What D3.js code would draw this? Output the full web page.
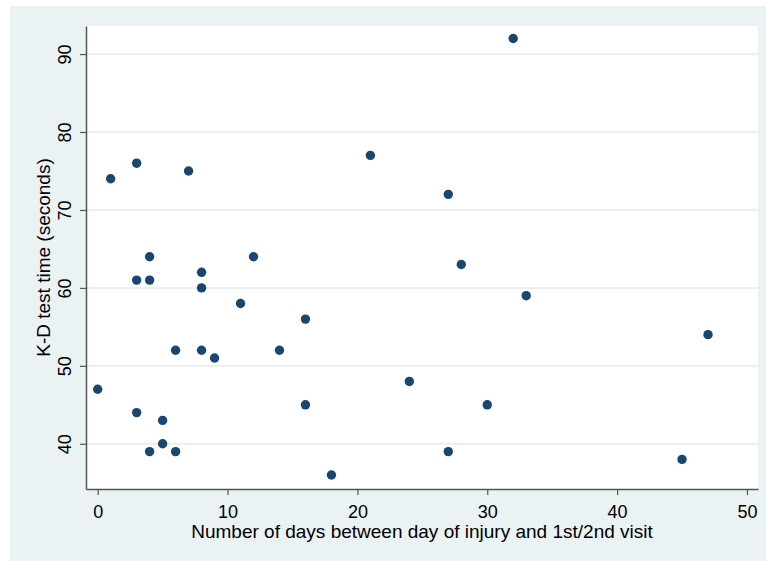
<!DOCTYPE html>
<html>
<head>
<meta charset="utf-8">
<script src="https://cdn.jsdelivr.net/npm/d3@7"></script>
<style>
  body { margin: 0; background: #fff; }
  text { font-family: "Liberation Sans", Arial, sans-serif; fill: #000; }
</style>
</head>
<body>
<div id="chart"></div>
<script>
// Data
const days = [0, 1, 3, 3, 3, 4, 4, 4, 5, 5, 6, 6, 7, 8, 8, 8, 9, 11, 12, 14, 16, 16, 18, 21, 24, 27, 27, 28, 30, 32, 33, 45, 47];
const kdTime = [47, 74, 76, 61, 44, 64, 61, 39, 43, 40, 52, 39, 75, 62, 60, 52, 51, 58, 64, 52, 56, 45, 36, 77, 48, 72, 39, 63, 45, 92, 59, 38, 54];
const xTicks = [0, 10, 20, 30, 40, 50];
const yTicks = [40, 50, 60, 70, 80, 90];

const w = 766;
const h = 561;

// plot region in pixels
const plot = { left: 86, top: 26, right: 758, bottom: 489 };

const svg = d3.select("#chart")
  .append("svg")
    .attr("width", w)
    .attr("height", h);

// outer graph region
svg.append("rect")
  .attr("x", 10)
  .attr("y", 6)
  .attr("width", w - 10)
  .attr("height", h - 6)
  .attr("fill", "#eaf2f3");

svg.append("rect")
  .attr("x", plot.left)
  .attr("y", plot.top)
  .attr("width", plot.right - plot.left)
  .attr("height", plot.bottom - plot.top)
  .attr("fill", "#ffffff");

const xScale = d3.scaleLinear()
  .domain([-0.9, 50.85])
  .range([plot.left, plot.right]);

const yScale = d3.scaleLinear()
  .domain([34.2, 93.6])
  .range([plot.bottom, plot.top]);

// gridlines
svg.append("g")
  .selectAll("line")
  .data(yTicks)
  .enter()
  .append("line")
    .attr("x1", plot.left)
    .attr("x2", plot.right)
    .attr("y1", d => yScale(d))
    .attr("y2", d => yScale(d))
    .attr("stroke", "#e2edf0")
    .attr("stroke-width", 1.5);

// axes
const xAxis = svg.append("g")
  .attr("transform", `translate(0, ${plot.bottom})`)
  .call(d3.axisBottom(xScale).tickValues(xTicks).tickSize(6).tickSizeOuter(0).tickPadding(11));

const yAxis = svg.append("g")
  .attr("transform", `translate(${plot.left}, 0)`)
  .call(d3.axisLeft(yScale).tickValues(yTicks).tickSize(6).tickSizeOuter(0));

[xAxis, yAxis].forEach(g => {
  g.select(".domain").attr("stroke", "#555").attr("stroke-width", 1.5);
  g.selectAll(".tick line").attr("stroke", "#555").attr("stroke-width", 1.2);
  g.selectAll("text").attr("font-size", 18).attr("fill", "#000");
});

xAxis.selectAll("text").attr("dy", "0.68em");

// rotated y tick labels
yAxis.selectAll(".tick text")
  .attr("x", null)
  .attr("dy", null)
  .attr("text-anchor", "middle")
  .attr("transform", "translate(-15, 0) rotate(-90)");

// points
svg.append("g")
  .selectAll("circle")
  .data(days.map((d, i) => [d, kdTime[i]]))
  .enter()
  .append("circle")
    .attr("cx", d => xScale(d[0]))
    .attr("cy", d => yScale(d[1]))
    .attr("r", 4.7)
    .attr("fill", "#1a476f");

// axis titles
svg.append("text")
  .text("Number of days between day of injury and 1st/2nd visit")
  .attr("x", (plot.left + plot.right) / 2)
  .attr("y", 538)
  .attr("text-anchor", "middle")
  .attr("font-size", 19);

svg.append("text")
  .text("K-D test time (seconds)")
  .attr("text-anchor", "middle")
  .attr("transform", `translate(50, ${(plot.top + plot.bottom) / 2}) rotate(-90)`)
  .attr("font-size", 19);
</script>
</body>
</html>
